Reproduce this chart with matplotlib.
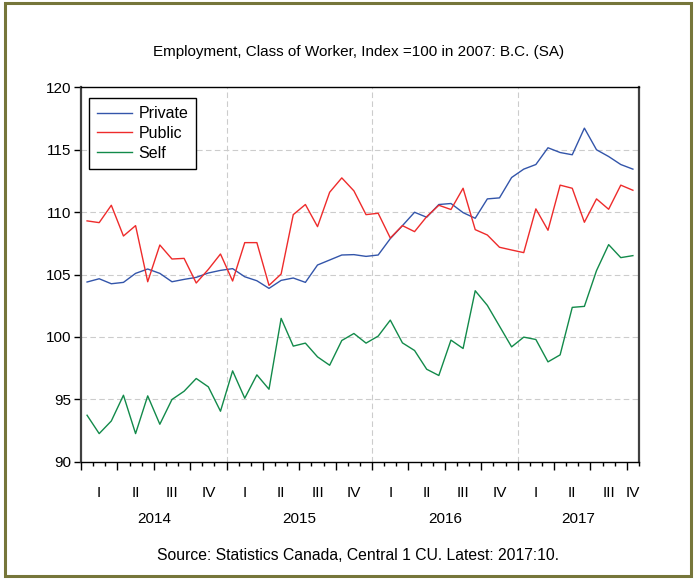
import matplotlib
matplotlib.use('Agg')
import matplotlib.pyplot as plt
import matplotlib.transforms as mtransforms
from matplotlib.patches import Rectangle
import numpy as np

# monthly index values, Jan 2014 - Oct 2017
years = [2014, 2015, 2016, 2017]
quarters = ['I', 'II', 'III', 'IV']

private = [104.40, 104.66, 104.26, 104.37, 105.09, 105.44, 105.09, 104.42, 104.61, 104.77, 105.12, 105.33,
           105.47, 104.82, 104.50, 103.89, 104.53, 104.72, 104.37, 105.76, 106.16, 106.56, 106.59, 106.45,
           106.56, 107.87, 108.91, 109.98, 109.58, 110.60, 110.68, 109.95, 109.50, 111.05, 111.13, 112.76,
           113.43, 113.80, 115.14, 114.76, 114.58, 116.71, 114.98, 114.44, 113.80, 113.43]
public = [109.29, 109.15, 110.54, 108.08, 108.91, 104.42, 107.36, 106.24, 106.29, 104.32, 105.41, 106.64,
          104.48, 107.55, 107.55, 104.13, 105.04, 109.79, 110.60, 108.83, 111.58, 112.73, 111.69, 109.79,
          109.90, 107.92, 108.91, 108.43, 109.63, 110.54, 110.20, 111.90, 108.59, 108.16, 107.18, 106.96,
          106.75, 110.25, 108.54, 112.15, 111.90, 109.18, 111.05, 110.22, 112.15, 111.74]
self_emp = [93.74, 92.27, 93.28, 95.34, 92.27, 95.29, 93.02, 95.00, 95.66, 96.68, 96.01, 94.06,
            97.29, 95.10, 96.97, 95.82, 101.49, 99.27, 99.51, 98.41, 97.74, 99.72, 100.28, 99.51,
            100.07, 101.35, 99.53, 98.92, 97.42, 96.92, 99.75, 99.08, 103.70, 102.53, 100.87, 99.21,
            99.99, 99.80, 98.01, 98.57, 102.37, 102.45, 105.31, 107.39, 106.35, 106.51]

plt.rcParams['font.family'] = ['Liberation Sans', 'DejaVu Sans']

n = len(private)
x = np.arange(n) + 0.5

fig = plt.figure(figsize=(6.94, 5.79), dpi=100)
ax = fig.add_axes([0.1167, 0.2021, 0.804, 0.6476])

ax.plot(x, private, color='#3355AA', lw=1.0, label='Private')
ax.plot(x, public, color='#EE2B2B', lw=1.0, label='Public')
ax.plot(x, self_emp, color='#128A4A', lw=1.0, label='Self')

ax.set_xlim(0, n)
ax.set_ylim(90, 120)
ax.set_yticks(np.arange(90, 121, 5))
ax.tick_params(axis='y', direction='out', length=5, width=1, labelsize=11, pad=2)

# month ticks, longer at quarter boundaries
ax.set_xticks(np.arange(0, n + 1, 3))
ax.set_xticks(np.arange(0, n + 1), minor=True)
ax.tick_params(axis='x', which='major', direction='out', length=6, width=1, labelbottom=False)
ax.tick_params(axis='x', which='minor', direction='out', length=3, width=1)

# grid: horizontal at y ticks, vertical at year boundaries
for yv in range(95, 120, 5):
    ax.axhline(yv, color='#cccccc', lw=0.8, ls=(0, (5, 3)), zorder=0)
for k in range(1, len(years)):
    ax.axvline(12 * k, color='#cccccc', lw=0.8, ls=(0, (5, 3)), zorder=0)

for s in ['left', 'right']:
    ax.spines[s].set_color('#404040')
    ax.spines[s].set_linewidth(1.6)
ax.spines['top'].set_linewidth(1.0)
ax.spines['bottom'].set_linewidth(1.0)

trans = mtransforms.blended_transform_factory(ax.transData, ax.transAxes)
for yi, yr in enumerate(years):
    start = yi * 12
    end = min(start + 12, n)
    for qi, q in enumerate(quarters):
        qs = start + qi * 3
        if qs >= end:
            break
        qe = min(qs + 3, end)
        ax.text((qs + qe) / 2, -0.082, q, transform=trans, ha='center', va='center', fontsize=11)
    ax.text((start + end) / 2, -0.151, str(yr), transform=trans, ha='center', va='center', fontsize=11)

leg = ax.legend(loc='upper left', bbox_to_anchor=(0.014, 0.97), borderaxespad=0, fontsize=11.5,
                fancybox=False, framealpha=1, edgecolor='black', handlelength=2.2,
                handletextpad=0.4, labelspacing=0.3, borderpad=0.5)
leg.get_frame().set_linewidth(1.0)

fig.text(0.516, 0.910, 'Employment, Class of Worker, Index =100 in 2007: B.C. (SA)',
         ha='center', va='center', fontsize=11)
fig.text(0.516, 0.040, 'Source: Statistics Canada, Central 1 CU. Latest: 2017:10.',
         ha='center', va='center', fontsize=11.3)

fig.patches.append(Rectangle((0.0065, 0.006), 0.9885, 0.988, transform=fig.transFigure,
                             fill=False, edgecolor='#76763A', lw=2.2))

fig.savefig('out.png', dpi=100)
